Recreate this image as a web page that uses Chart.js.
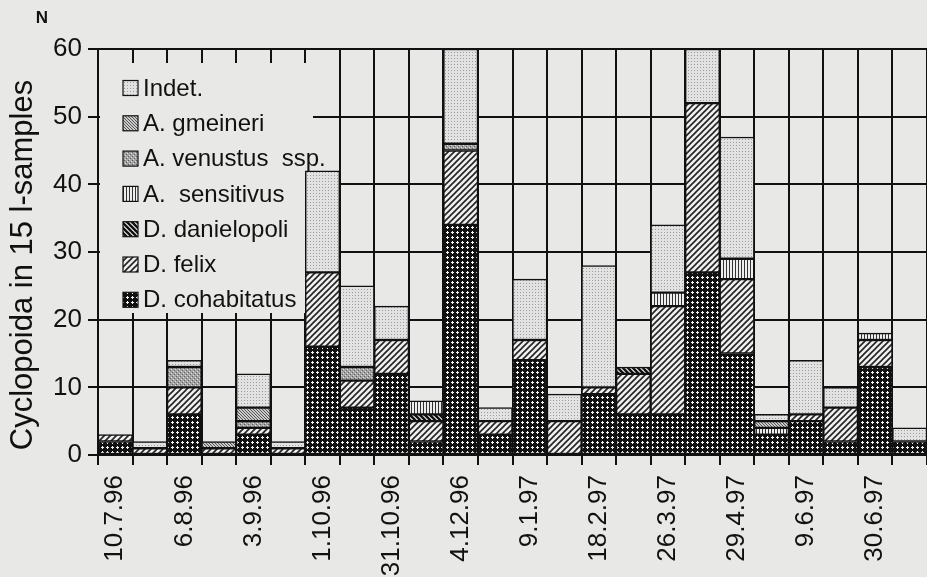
<!DOCTYPE html>
<html><head><meta charset="utf-8">
<script src="https://cdn.jsdelivr.net/npm/chart.js@4/dist/chart.umd.min.js"></script>
<style>
html,body{margin:0;padding:0;background:#e8e8e6;}
#wrap{position:relative;width:927px;height:577px;}
</style></head><body>
<div id="wrap"><canvas id="c" width="927" height="577"></canvas></div>
<script>
// ---- data ----
const categories = ['10.7.96','','6.8.96','','3.9.96','','1.10.96','','31.10.96','','4.12.96','','9.1.97','','18.2.97','','26.3.97','','29.4.97','','9.6.97','','30.6.97',''];
const seriesNames = ['D. cohabitatus','D. felix','D. danielopoli','A.  sensitivus','A. venustus  ssp.','A. gmeineri','Indet.'];
const cohabitatus = [2,0,6,0,3,0,16,7,12,2,34,3,14,0,9,6,6,27,15,3,5,2,13,2];
const felix       = [1,1,4,1,1,1,11,4,5,3,11,2,3,5,1,6,16,25,11,0,1,5,4,0];
const danielopoli = [0,0,0,0,0,0,0,0,0,1,0,0,0,0,0,1,0,0,0,0,0,0,0,0];
const sensitivus  = [0,0,0,0,0,0,0,0,0,2,0,0,0,0,0,0,2,0,3,1,0,0,1,0];
const venustus    = [0,0,3,0,1,0,0,2,0,0,1,0,0,0,0,0,0,0,0,0,0,0,0,0];
const gmeineri    = [0,0,0,1,2,0,0,0,0,0,0,0,0,0,0,0,0,0,0,1,0,0,0,0];
const indet       = [0,1,1,0,5,1,15,12,5,0,14,2,9,4,18,0,10,8,18,1,8,3,0,2];
const yTicks = [0,10,20,30,40,50,60];
const yTitle = 'Cyclopoida in 15 l-samples';

const BG = '#e8e8e6';
const INK = '#111';
const FONT = "'Liberation Sans', Arial, sans-serif";

// ---- patterns ----
function makePattern(w, h, draw) {
  const cv = document.createElement('canvas');
  cv.width = w; cv.height = h;
  const g = cv.getContext('2d');
  draw(g, w, h);
  return g.createPattern(cv, 'repeat');
}
const pCohab = makePattern(5,5,(g)=>{
  g.fillStyle='#111'; g.fillRect(0,0,5,5);
  g.fillStyle='#f2f2f2'; g.fillRect(2,1,1,3); g.fillRect(1,2,3,1);
});
const pFelix = makePattern(6,6,(g)=>{
  g.fillStyle='#efefef'; g.fillRect(0,0,6,6);
  g.strokeStyle='#222'; g.lineWidth=1.6;
  g.beginPath(); g.moveTo(-1,7); g.lineTo(7,-1); g.moveTo(-1,1); g.lineTo(1,-1); g.moveTo(5,7); g.lineTo(7,5); g.stroke();
});
const pDani = makePattern(5,5,(g)=>{
  g.fillStyle='#eeeeee'; g.fillRect(0,0,5,5);
  g.strokeStyle='#111'; g.lineWidth=2.4;
  g.beginPath(); g.moveTo(-1,-1); g.lineTo(6,6); g.moveTo(-1,4); g.lineTo(1,6); g.moveTo(4,-1); g.lineTo(6,1); g.stroke();
});
const pSens = makePattern(3,3,(g)=>{
  g.fillStyle='#eeeeee'; g.fillRect(0,0,3,3);
  g.fillStyle='#333'; g.fillRect(0,0,1,3);
});
const pVenus = makePattern(4,4,(g)=>{
  g.fillStyle='#a4a4a4'; g.fillRect(0,0,4,4);
  g.fillStyle='#5e5e5e'; g.fillRect(0,0,1,1); g.fillRect(2,2,1,1);
  g.fillStyle='#dcdcdc'; g.fillRect(1,3,1,1); g.fillRect(3,1,1,1);
});
const pGmein = makePattern(3,3,(g)=>{
  g.fillStyle='#cacaca'; g.fillRect(0,0,3,3);
  g.fillStyle='#555'; g.fillRect(0,0,1,1); g.fillRect(1,1,1,1); g.fillRect(2,2,1,1);
});
const pIndet = makePattern(3,3,(g)=>{
  g.fillStyle='#e2e2e2'; g.fillRect(0,0,3,3);
  g.fillStyle='#9c9c9c'; g.fillRect(1,1,1,1);
});

const seriesData = [cohabitatus, felix, danielopoli, sensitivus, venustus, gmeineri, indet];
const seriesFill = [pCohab, pFelix, pDani, pSens, pVenus, pGmein, pIndet];

const datasets = seriesData.map((arr,i)=>({
  label: seriesNames[i],
  data: arr.map(v => v === 0 ? null : v),
  backgroundColor: seriesFill[i],
  borderColor: INK,
  borderWidth: 1.5,
  borderSkipped: false,
  categoryPercentage: 1.0,
  barPercentage: 1.0,
  stack: 's'
}));

// ---- legend drawn inside the plot, "N" and the axis title ----
const boxLegend = {
  id: 'boxLegend',
  beforeDatasetsDraw(chart) {
    const ctx = chart.ctx;
    const ca = chart.chartArea;
    ctx.save();
    ctx.fillStyle = BG;
    ctx.fillRect(ca.left + 2, 63, 213, 250);
    const ds = chart.data.datasets;
    const n = ds.length;
    ctx.font = '24px ' + FONT;
    ctx.textBaseline = 'middle';
    ctx.textAlign = 'left';
    for (let k = 0; k < n; k++) {
      const d = ds[n - 1 - k];
      const cy = 88 + k * 35.3;
      ctx.fillStyle = d.backgroundColor;
      ctx.fillRect(123, cy - 7.5, 15, 15);
      ctx.strokeStyle = INK; ctx.lineWidth = 1.2;
      ctx.strokeRect(123, cy - 7.5, 15, 15);
      ctx.fillStyle = INK;
      ctx.fillText(d.label, 143, cy + 1);
    }
    ctx.restore();
  },
  afterDraw(chart) {
    const ctx = chart.ctx;
    ctx.save();
    ctx.font = 'bold 17px ' + FONT;
    ctx.fillStyle = INK;
    ctx.textAlign = 'center';
    ctx.textBaseline = 'middle';
    ctx.fillText('N', 42, 18);
    ctx.translate(23, 265);
    ctx.rotate(-Math.PI / 2);
    ctx.font = '31px ' + FONT;
    ctx.fillText(yTitle, 0, 0);
    ctx.restore();
  }
};

new Chart(document.getElementById('c'), {
  type: 'bar',
  data: { labels: categories, datasets },
  plugins: [boxLegend],
  options: {
    responsive: false,
    animation: false,
    layout: { padding: { top: 49, right: 0, bottom: 0, left: 0 } },
    plugins: { legend: { display: false }, tooltip: { enabled: false } },
    scales: {
      x: {
        stacked: true,
        offset: true,
        afterFit(s) { s.height = 122; s.paddingRight = 0; s.paddingLeft = 0; },
        grid: { color: INK, lineWidth: 2, offset: true, drawTicks: true, tickLength: 10, tickColor: INK },
        border: { display: true, color: INK, width: 2 },
        ticks: { autoSkip: false, maxRotation: 90, minRotation: 90, padding: 10, color: INK, font: { family: FONT, size: 26 } }
      },
      y: {
        stacked: true,
        min: 0, max: 60,
        afterFit(s) { s.width = 98; s.paddingTop = 0; s.paddingBottom = 0; },
        afterBuildTicks(s) { s.ticks = yTicks.map(v => ({ value: v })); },
        grid: { color: INK, lineWidth: 2, drawTicks: true, tickLength: 10, tickColor: INK },
        border: { display: true, color: INK, width: 2 },
        ticks: { padding: 6, color: INK, font: { family: FONT, size: 26 } },
        title: { display: false }
      }
    }
  }
});
</script>
</body></html>
